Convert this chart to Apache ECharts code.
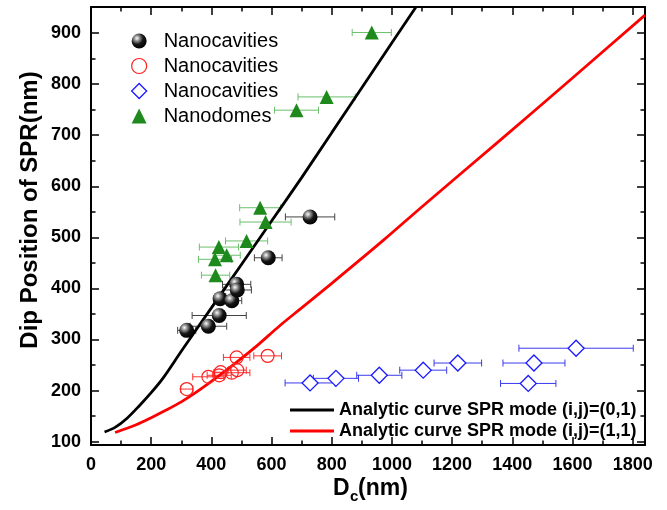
<!DOCTYPE html>
<html><head><meta charset="utf-8">
<script src="https://cdn.jsdelivr.net/npm/echarts@6/dist/echarts.min.js"></script>
<style>html,body{margin:0;padding:0;background:#fff}#c{width:667px;height:510px}</style>
</head><body><div id="c"></div>
<script>
// ---- data ----
const ballX = [318, 390, 426, 429, 468, 484, 486, 589, 728];
const ballY = [318, 326, 347, 380, 376, 408, 397, 460, 540];
const ballErr = [30, 61, 90, 20, 33, 47, 47, 46, 82];

const circleX = [318, 390, 426, 431, 468, 486, 484, 587];
const circleY = [203, 227, 230, 236, 235, 240, 265, 268];
const circleErr = [20, 52, 40, 20, 60, 30, 44, 46];

const diaX = [728, 814, 958, 1104, 1219, 1472, 1612, 1453];
const diaY = [215, 224, 230, 240, 254, 254, 283, 214];
const diaErr = [83, 75, 75, 78, 79, 103, 190, 92];

const triX = [414, 412, 425, 451, 517, 562, 580, 683, 783, 933];
const triY = [426, 457, 481, 465, 493, 558, 530, 749, 775, 901];
const triErr = [47, 55, 65, 45, 70, 68, 85, 73, 95, 65];

const curve01X = [45, 80, 120, 160, 200, 240, 300, 400, 500, 600, 700, 800, 900, 1000, 1080];
const curve01Y = [119, 128, 146, 170, 196, 225, 277, 362, 447, 532, 617, 705, 793, 881, 951];

const curve11X = [80, 150, 200, 250, 300, 350, 400, 450, 500, 550, 629, 700, 800, 971, 1100, 1359, 1600, 1841];
const curve11Y = [118, 133, 147, 162, 178, 197, 218, 240, 263, 287, 328, 362, 410, 494, 560, 690, 812, 935];

const xMajor = [0, 200, 400, 600, 800, 1000, 1200, 1400, 1600, 1800];
const xMinor = [100, 300, 500, 700, 900, 1100, 1300, 1500, 1700];
const yMajor = [100, 200, 300, 400, 500, 600, 700, 800, 900];
const yMinor = [150, 250, 350, 450, 550, 650, 750, 850];

const legendLabels = {
  balls: 'Nanocavities', circles: 'Nanocavities', diamonds: 'Nanocavities', domes: 'Nanodomes',
  c01: 'Analytic curve SPR mode (i,j)=(0,1)', c11: 'Analytic curve SPR mode (i,j)=(1,1)'
};

const X_MIN = 0, X_MAX = 1841, Y_MIN = 93.5, Y_MAX = 951;
const FONT = '"Liberation Sans", Arial, sans-serif';

function zip(a, b, c) { return a.map((v, i) => c ? [v, b[i], c[i]] : [v, b[i]]); }

function errRender(color) {
  return function (params, api) {
    const x = api.value(0), y = api.value(1), e = api.value(2);
    const p1 = api.coord([x - e, y]), p2 = api.coord([x + e, y]);
    const h = 3.5, st = { stroke: color, lineWidth: 1 };
    return { type: 'group', children: [
      { type: 'line', shape: { x1: p1[0], y1: p1[1], x2: p2[0], y2: p2[1] }, style: st },
      { type: 'line', shape: { x1: p1[0], y1: p1[1] - h, x2: p1[0], y2: p1[1] + h }, style: st },
      { type: 'line', shape: { x1: p2[0], y1: p2[1] - h, x2: p2[0], y2: p2[1] + h }, style: st }
    ]};
  };
}

const ballGrad = { type: 'radial', x: 0.35, y: 0.32, r: 0.75, colorStops: [
  { offset: 0, color: '#ffffff' }, { offset: 0.22, color: '#9a9a9a' },
  { offset: 0.55, color: '#151515' }, { offset: 1, color: '#000000' } ] };

const lineCol = { color: '#000', width: 2 };
const tickSt = { color: '#000', width: 1.5 };
const xBase = { type: 'value', min: X_MIN, max: X_MAX, splitLine: { show: false } };
const yBase = { type: 'value', min: Y_MIN, max: Y_MAX, splitLine: { show: false } };
const lblSt = { fontSize: 18, fontWeight: 'bold', fontFamily: FONT, color: '#000', formatter: v => String(v) };

const option = {
  animation: false,
  backgroundColor: '#fff',
  grid: { left: 91, right: 22, top: 7, bottom: 65 },
  xAxis: [
    Object.assign({}, xBase, { position: 'bottom', axisLine: { show: true, onZero: false, lineStyle: lineCol },
      axisTick: { inside: true, length: 8, lineStyle: tickSt, customValues: xMajor },
      axisLabel: Object.assign({ customValues: xMajor, margin: 11 }, lblSt) }),
    Object.assign({}, xBase, { position: 'bottom', axisLine: { show: false, onZero: false },
      axisTick: { inside: true, length: 4.5, lineStyle: tickSt, customValues: xMinor }, axisLabel: { show: false } }),
    Object.assign({}, xBase, { position: 'top', axisLine: { show: true, onZero: false, lineStyle: lineCol },
      axisTick: { inside: true, length: 8, lineStyle: tickSt, customValues: xMajor }, axisLabel: { show: false } }),
    Object.assign({}, xBase, { position: 'top', axisLine: { show: false, onZero: false },
      axisTick: { inside: true, length: 4.5, lineStyle: tickSt, customValues: xMinor }, axisLabel: { show: false } })
  ],
  yAxis: [
    Object.assign({}, yBase, { position: 'left', axisLine: { show: true, onZero: false, lineStyle: lineCol },
      axisTick: { inside: true, length: 8, lineStyle: tickSt, customValues: yMajor },
      axisLabel: Object.assign({ customValues: yMajor, margin: 10 }, lblSt) }),
    Object.assign({}, yBase, { position: 'left', axisLine: { show: false, onZero: false },
      axisTick: { inside: true, length: 4.5, lineStyle: tickSt, customValues: yMinor }, axisLabel: { show: false } }),
    Object.assign({}, yBase, { position: 'right', axisLine: { show: true, onZero: false, lineStyle: lineCol },
      axisTick: { inside: true, length: 8, lineStyle: tickSt, customValues: yMajor }, axisLabel: { show: false } }),
    Object.assign({}, yBase, { position: 'right', axisLine: { show: false, onZero: false },
      axisTick: { inside: true, length: 4.5, lineStyle: tickSt, customValues: yMinor }, axisLabel: { show: false } })
  ],
  legend: [
    { left: 126, top: 26, orient: 'vertical', itemWidth: 15, itemHeight: 15, itemGap: 5,
      selectedMode: false,
      formatter: n => legendLabels[n],
      textStyle: { fontSize: 20, fontFamily: FONT, color: '#000', padding: [0, 0, 0, 12] },
      data: [
        { name: 'balls', icon: 'circle', itemStyle: { color: ballGrad, borderWidth: 0 } },
        { name: 'circles', icon: 'circle', itemStyle: { color: 'rgba(255,255,255,0)', borderColor: '#ff2020', borderWidth: 1.2 } },
        { name: 'diamonds', icon: 'diamond', itemStyle: { color: 'rgba(255,255,255,0)', borderColor: '#1a1aff', borderWidth: 1.3 } },
        { name: 'domes', icon: 'triangle', itemStyle: { color: '#1e8a1e', borderWidth: 0 } }
      ] },
    { left: 285, top: 396, orient: 'vertical', itemWidth: 44, itemHeight: 3, itemGap: 3,
      selectedMode: false, formatter: n => legendLabels[n],
      textStyle: { fontSize: 18, fontWeight: 'bold', fontFamily: FONT, color: '#000' },
      data: [
        { name: 'c01', icon: 'rect', itemStyle: { color: '#000', borderWidth: 0 } },
        { name: 'c11', icon: 'rect', itemStyle: { color: '#ff0000', borderWidth: 0 } }
      ] }
  ],
  graphic: [
    { type: 'text', x: 30, y: 210, rotation: Math.PI / 2,
      style: { text: 'Dip Position of SPR(nm)', font: 'bold 24px ' + FONT, fill: '#000', align: 'center', verticalAlign: 'middle' } },
    { type: 'text', x: 333, y: 489, style: { text: 'D', font: 'bold 23px ' + FONT, fill: '#000', align: 'left', verticalAlign: 'middle' } },
    { type: 'text', x: 350, y: 497, style: { text: 'c', font: 'bold 15px ' + FONT, fill: '#000', align: 'left', verticalAlign: 'middle' } },
    { type: 'text', x: 358, y: 489, style: { text: '(nm)', font: 'bold 23px ' + FONT, fill: '#000', align: 'left', verticalAlign: 'middle' } }
  ],
  series: [
    { name: 'errBalls', type: 'custom', renderItem: errRender('#444'), data: zip(ballX, ballY, ballErr), encode: { x: 0, y: 1 }, z: 1, silent: true },
    { name: 'errCircles', type: 'custom', renderItem: errRender('#ff3030'), data: zip(circleX, circleY, circleErr), encode: { x: 0, y: 1 }, z: 1, silent: true },
    { name: 'errDiamonds', type: 'custom', renderItem: errRender('#3a3aee'), data: zip(diaX, diaY, diaErr), encode: { x: 0, y: 1 }, z: 1, silent: true },
    { name: 'errDomes', type: 'custom', renderItem: errRender('#6cbf6c'), data: zip(triX, triY, triErr), encode: { x: 0, y: 1 }, z: 1, silent: true },
    { name: 'c01', type: 'line', data: zip(curve01X, curve01Y), smooth: 0.3, showSymbol: false, symbol: 'none',
      lineStyle: { color: '#000', width: 2.8 }, itemStyle: { color: '#000' }, z: 2 },
    { name: 'c11', type: 'line', data: zip(curve11X, curve11Y), smooth: 0.3, showSymbol: false, symbol: 'none',
      lineStyle: { color: '#ff0000', width: 2.8 }, itemStyle: { color: '#ff0000' }, z: 2 },
    { name: 'balls', type: 'scatter', data: zip(ballX, ballY), symbol: 'circle', symbolSize: 15,
      itemStyle: { color: ballGrad, opacity: 1 }, z: 3 },
    { name: 'circles', type: 'scatter', data: zip(circleX, circleY), symbol: 'circle', symbolSize: 13,
      itemStyle: { color: 'rgba(255,255,255,0)', borderColor: '#ff2020', borderWidth: 1.2, opacity: 1 }, z: 3 },
    { name: 'diamonds', type: 'scatter', data: zip(diaX, diaY), symbol: 'diamond', symbolSize: 16,
      itemStyle: { color: '#fff', borderColor: '#1a1aff', borderWidth: 1.3, opacity: 1 }, z: 3 },
    { name: 'domes', type: 'scatter', data: zip(triX, triY), symbol: 'triangle', symbolSize: 14,
      itemStyle: { color: '#1e8a1e', opacity: 1 }, z: 3 }
  ]
};

const chart = echarts.init(document.getElementById('c'), null, { renderer: 'canvas' });
chart.setOption(option);
</script>
</body></html>
